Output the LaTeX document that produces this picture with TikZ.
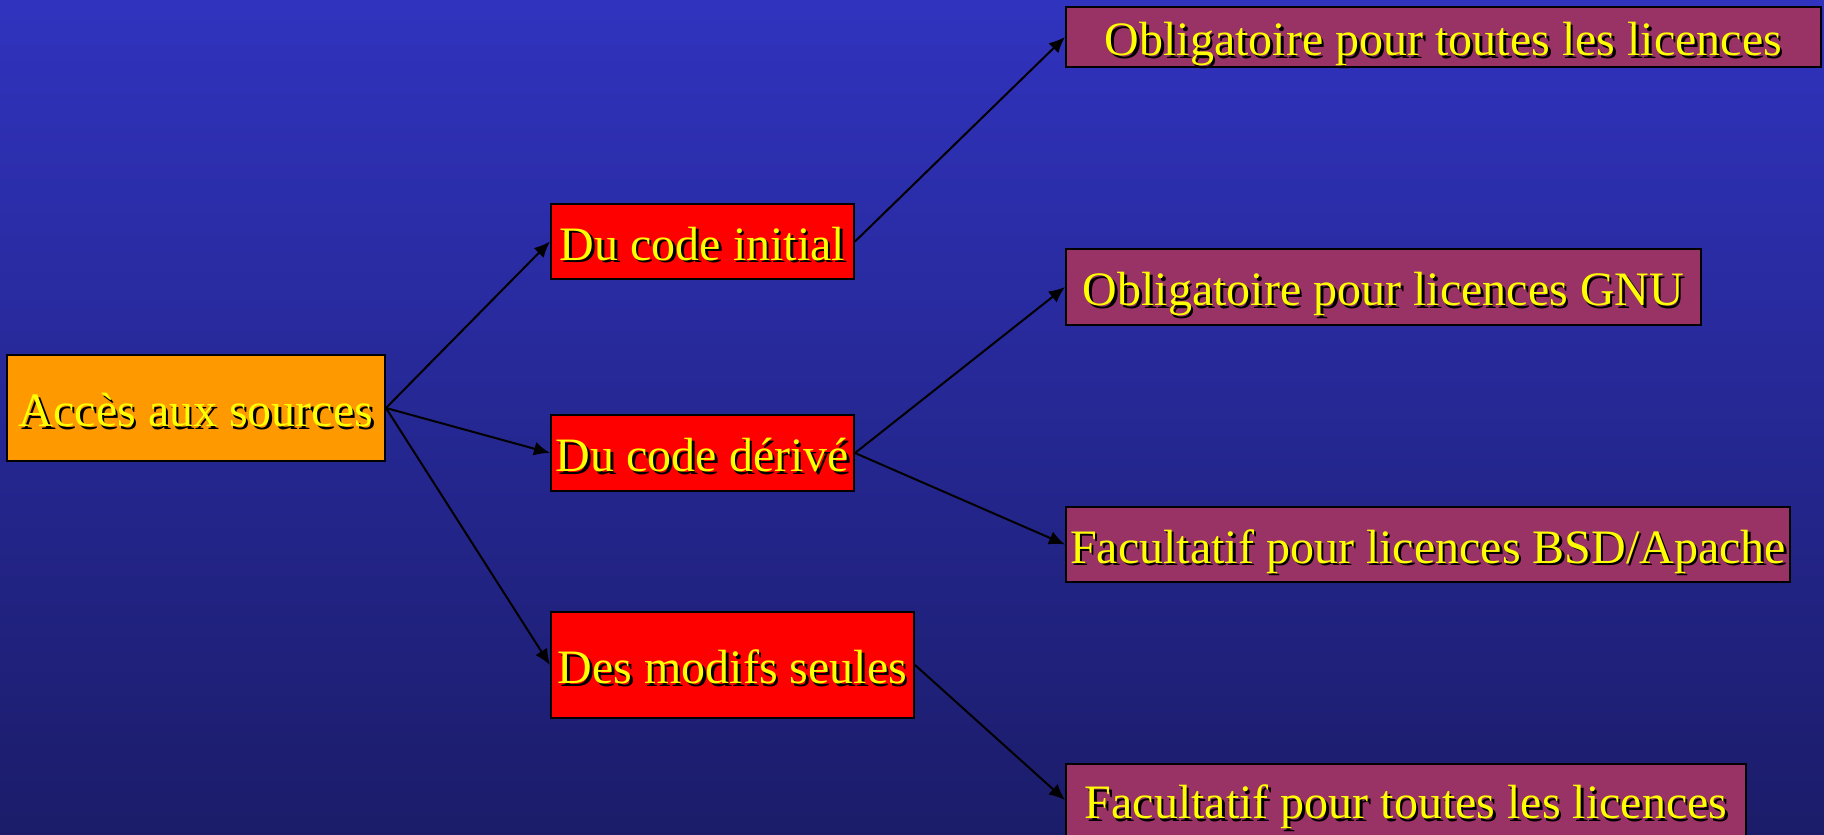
\documentclass[tikz,border=0pt]{standalone}
\usepackage{fontspec}
\setmainfont{Liberation Serif}
\usetikzlibrary{arrows.meta}
\definecolor{bgtop}{RGB}{48,51,190}
\definecolor{bgbot}{RGB}{27,28,105}
\definecolor{orangebox}{RGB}{255,153,0}
\definecolor{redbox}{RGB}{255,0,0}
\definecolor{purplebox}{RGB}{153,51,102}
\definecolor{txtyellow}{RGB}{255,255,0}
\newcommand\shtxt[1]{\rlap{\raisebox{-2.5pt}{\hspace{2.5pt}\color{black}#1}}{\color{txtyellow}#1}}
\tikzset{
  box/.style={draw=black, line width=2pt, inner sep=0pt, align=center,
    text height=37pt, text depth=0pt,
    font=\fontsize{48}{56}\selectfont},
  orangestyle/.style={box, fill=orangebox},
  redstyle/.style={box, fill=redbox},
  purplestyle/.style={box, fill=purplebox},
  conn/.style={draw=black, line width=2pt, -{Latex[length=16pt,width=14pt]}}
}
\begin{document}
\begin{tikzpicture}[x=1pt,y=1pt]
\useasboundingbox (0,0) rectangle (1824,-835);
\clip (0,0) rectangle (1824,-835);
\shade[top color=bgtop, bottom color=bgbot] (0,0) rectangle (1824,-835);

\node[orangestyle, minimum width=378pt, minimum height=106pt] (acc) at (196,-408) {\shtxt{Accès aux sources}};
\node[redstyle, minimum width=303pt, minimum height=75pt] (init) at (702.5,-241.5) {\shtxt{Du code initial}};
\node[redstyle, minimum width=303pt, minimum height=76pt] (deriv) at (702.5,-453) {\shtxt{Du code dérivé}};
\node[redstyle, minimum width=363pt, minimum height=106pt] (modifs) at (732.5,-665) {\shtxt{Des modifs seules}};

\node[purplestyle, minimum width=755pt, minimum height=60pt] (ob1) at (1443.5,-37) {\shtxt{Obligatoire pour toutes les licences}};
\node[purplestyle, minimum width=635pt, minimum height=76pt] (gnu) at (1383.5,-287) {\shtxt{Obligatoire pour licences GNU}};
\node[purplestyle, minimum width=724pt, minimum height=75pt] (bsd) at (1428,-544.5) {\shtxt{Facultatif pour licences BSD/Apache}};
\node[purplestyle, minimum width=680pt, minimum height=72pt] (fac) at (1406,-800) {\shtxt{Facultatif pour toutes les licences}};

\draw[conn] (acc.east) -- (init.west);
\draw[conn] (acc.east) -- (deriv.west);
\draw[conn] (acc.east) -- (modifs.west);
\draw[conn] (init.east) -- (ob1.west);
\draw[conn] (deriv.east) -- (gnu.west);
\draw[conn] (deriv.east) -- (bsd.west);
\draw[conn] (modifs.east) -- (fac.west);
\end{tikzpicture}
\end{document}
